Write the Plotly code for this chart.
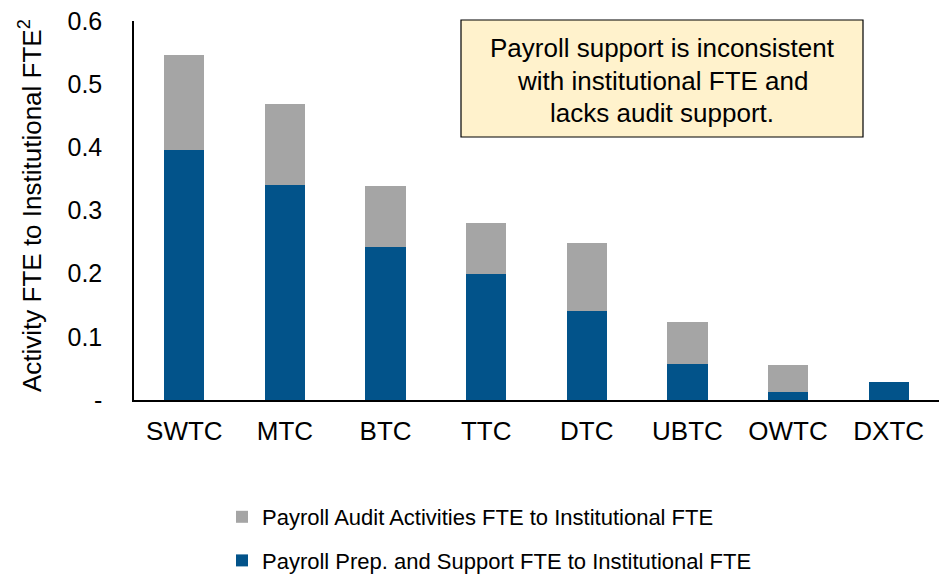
import plotly.graph_objects as go

categories = ["SWTC", "MTC", "BTC", "TTC", "DTC", "UBTC", "OWTC", "DXTC"]
prep_support = [0.395, 0.341, 0.242, 0.200, 0.141, 0.057, 0.012, 0.029]
audit = [0.151, 0.128, 0.097, 0.080, 0.107, 0.066, 0.043, 0.0]

y_ticks = [0, 0.1, 0.2, 0.3, 0.4, 0.5, 0.6]
y_ticktext = ["-", "0.1", "0.2", "0.3", "0.4", "0.5", "0.6"]

note_lines = ["Payroll support is inconsistent", "with institutional FTE and", "lacks audit support."]

font = "Liberation Sans, Arial, sans-serif"

# plot area in pixels
L, R, T, B = 134, 939, 21, 400
W, H = R - L, B - T

fig = go.Figure()
fig.add_trace(go.Bar(
    x=categories, y=prep_support,
    name="Payroll Prep. and Support FTE to Institutional FTE",
    marker=dict(color="#02538A", line=dict(width=0)),
    legendgroup="b", legendrank=2,
))
fig.add_trace(go.Bar(
    x=categories, y=audit,
    name="Payroll Audit Activities FTE to Institutional FTE",
    marker=dict(color="#A5A5A5", line=dict(width=0)),
    legendgroup="a", legendrank=1,
))

# note box
fig.add_shape(type="rect", xref="paper", yref="paper",
              x0=(461 - L) / W, x1=(863 - L) / W,
              y0=(B - 137) / H, y1=(B - 20) / H,
              fillcolor="#FFF2CC", line=dict(color="black", width=1.2), layer="above")
for i, line in enumerate(note_lines):
    fig.add_annotation(text=line, xref="paper", yref="paper",
                       x=(662 - L) / W, y=(B - (48 + 32.5 * i)) / H,
                       showarrow=False, xanchor="center", yanchor="middle",
                       font=dict(size=26, color="black", family=font))

# y axis title
fig.add_annotation(text="Activity FTE to Institutional FTE<sup>2</sup>",
                   xref="paper", yref="paper",
                   x=(30 - L) / W, y=(B - 206) / H, textangle=-90,
                   showarrow=False, xanchor="center", yanchor="middle",
                   font=dict(size=26, color="black", family=font))

fig.update_layout(
    barmode="stack",
    bargap=0.6,
    width=941, height=574,
    margin=dict(l=L, r=941 - R, t=T, b=574 - B, autoexpand=False),
    plot_bgcolor="white", paper_bgcolor="white",
    font=dict(family=font, size=25, color="black"),
    legend=dict(
        traceorder="grouped",
        tracegroupgap=12,
        orientation="v",
        xref="container", yref="container",
        x=222 / 941, xanchor="left",
        y=1 - 496 / 574, yanchor="top",
        font=dict(size=22, family=font),
        itemwidth=30,
    ),
)
fig.update_xaxes(showline=True, linecolor="black", linewidth=1.5, ticks="",
                 tickfont=dict(size=26), showgrid=False, tickangle=0,
                 ticklabelstandoff=7)
fig.update_yaxes(range=[0, 0.6], tickvals=y_ticks, ticktext=y_ticktext,
                 showline=True, linecolor="black", linewidth=1.5, ticks="",
                 showgrid=False, zeroline=False, tickfont=dict(size=25),
                 ticklabelstandoff=25)

fig.write_html("out.html", config={"displayModeBar": False},
               post_script="document.body.style.margin='0';")
